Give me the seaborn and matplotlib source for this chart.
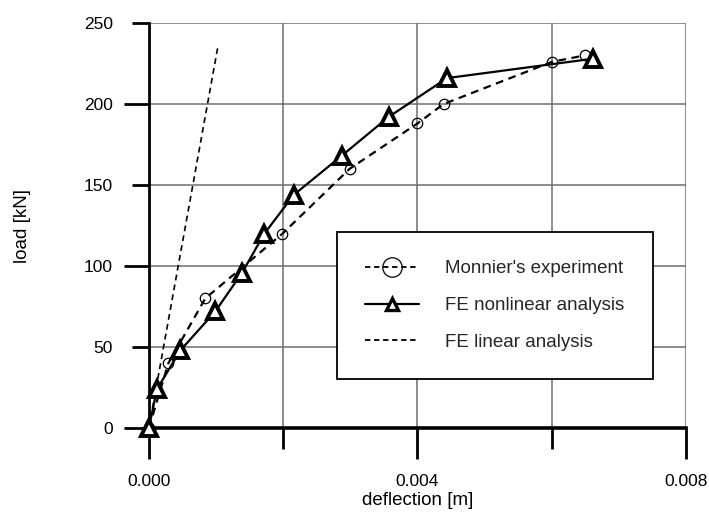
import matplotlib
matplotlib.use("Agg")
import matplotlib.pyplot as plt
import seaborn as sns
import pandas as pd
from matplotlib.lines import Line2D
from matplotlib.ticker import FixedLocator

# ---- data ----
exp_defl = [0.0, 0.00029, 0.00084, 0.00199, 0.00299, 0.00400, 0.00439, 0.00600, 0.00649]
exp_load = [0, 40, 80, 120, 160, 188, 200, 226, 230]

nl_defl = [0.0, 0.00012, 0.00047, 0.00099, 0.00139, 0.00172, 0.00216, 0.00287, 0.00357, 0.00444, 0.00662]
nl_load = [0, 24, 48, 72, 96, 120, 144, 168, 192, 216, 228]

lin_defl = [0.0, 0.00103]
lin_load = [0, 236]

labels = ["Monnier's experiment", "FE nonlinear analysis", "FE linear analysis"]
x_ticks = [0.0, 0.002, 0.004, 0.006, 0.008]
x_ticklabels = ["0.000", "", "0.004", "", "0.008"]
y_ticks = [0, 50, 100, 150, 200, 250]
y_ticklabels = ["0", "50", "100", "150", "200", "250"]

sns.set_theme(style="white")
plt.rcParams['font.family'] = ['Liberation Sans', 'DejaVu Sans']

fig = plt.figure(figsize=(7.09, 5.12), dpi=100)
ax = fig.add_axes([0.210, 0.164, 0.7575, 0.791])

df_exp = pd.DataFrame({"x": exp_defl, "y": exp_load})
df_nl = pd.DataFrame({"x": nl_defl, "y": nl_load})
df_lin = pd.DataFrame({"x": lin_defl, "y": lin_load})

sns.lineplot(data=df_lin, x="x", y="y", ax=ax, color="black", lw=1.2,
             linestyle=(0, (3.5, 2.5)), sort=False, zorder=3)
sns.lineplot(data=df_exp, x="x", y="y", ax=ax, color="black", lw=1.6,
             linestyle=(0, (3.5, 2.5)), marker="o", markersize=7.5,
             markerfacecolor="none", markeredgecolor="black", markeredgewidth=0.9,
             sort=False, zorder=4, clip_on=False)
sns.lineplot(data=df_nl, x="x", y="y", ax=ax, color="black", lw=1.6,
             marker="^", markersize=11.5, markerfacecolor="white",
             markeredgecolor="black", markeredgewidth=2.8, sort=False,
             zorder=5, clip_on=False)

ax.set_xlim(0, 0.008)
ax.set_ylim(0, 250)

ax.xaxis.set_major_locator(FixedLocator(x_ticks))
ax.set_xticklabels(x_ticklabels)
ax.yaxis.set_major_locator(FixedLocator(y_ticks))
ax.set_yticklabels(y_ticklabels)

ax.tick_params(axis="both", which="major", width=2.0, color="black",
               labelsize=12.5, labelcolor="black", direction="out",
               bottom=True, left=True)
ax.tick_params(axis="x", which="major", length=17, pad=16)
ax.tick_params(axis="y", which="major", length=17, pad=9)

# long ticks for 0, 0.004, 0.008 / 0, 100, 200 ; short for the others
for i, t in enumerate(ax.xaxis.get_major_ticks()):
    t.tick1line.set_markersize(22 if i % 2 == 0 else 15)
for i, t in enumerate(ax.yaxis.get_major_ticks()):
    t.tick1line.set_markersize(18 if i % 2 == 0 else 12)

ax.grid(True, which="major", color="#6e6e6e", lw=1.1, zorder=0)
ax.set_axisbelow(True)

for s in ["top", "right"]:
    ax.spines[s].set_visible(False)
ax.spines["left"].set_color("black")
ax.spines["left"].set_linewidth(2.0)
ax.spines["bottom"].set_color("black")
ax.spines["bottom"].set_linewidth(2.6)

ax.set_xlabel("deflection [m]", fontsize=13.5, color="black", labelpad=2)
ax.set_ylabel("load [kN]", fontsize=13.5, color="black", labelpad=38)

handles = [
    Line2D([], [], color="black", lw=1.3, linestyle=(0, (3, 2)), marker="o",
           markersize=14, markerfacecolor="none", markeredgecolor="black",
           markeredgewidth=0.9),
    Line2D([], [], color="black", lw=1.6, marker="^", markersize=8,
           markerfacecolor="white", markeredgecolor="black", markeredgewidth=2.4),
    Line2D([], [], color="black", lw=1.3, linestyle=(0, (3, 2))),
]
leg = ax.legend(handles, labels, loc="center",
                bbox_to_anchor=(0.348, 0.119, 0.592, 0.367),
                fontsize=13.5, frameon=True, fancybox=False, edgecolor="black",
                handlelength=2.9, handletextpad=1.4, labelspacing=1.05,
                borderpad=1.5, borderaxespad=0)
leg.get_frame().set_linewidth(1.3)
leg.get_frame().set_alpha(1)
leg.set_zorder(10)

fig.savefig("out.png", dpi=100)
